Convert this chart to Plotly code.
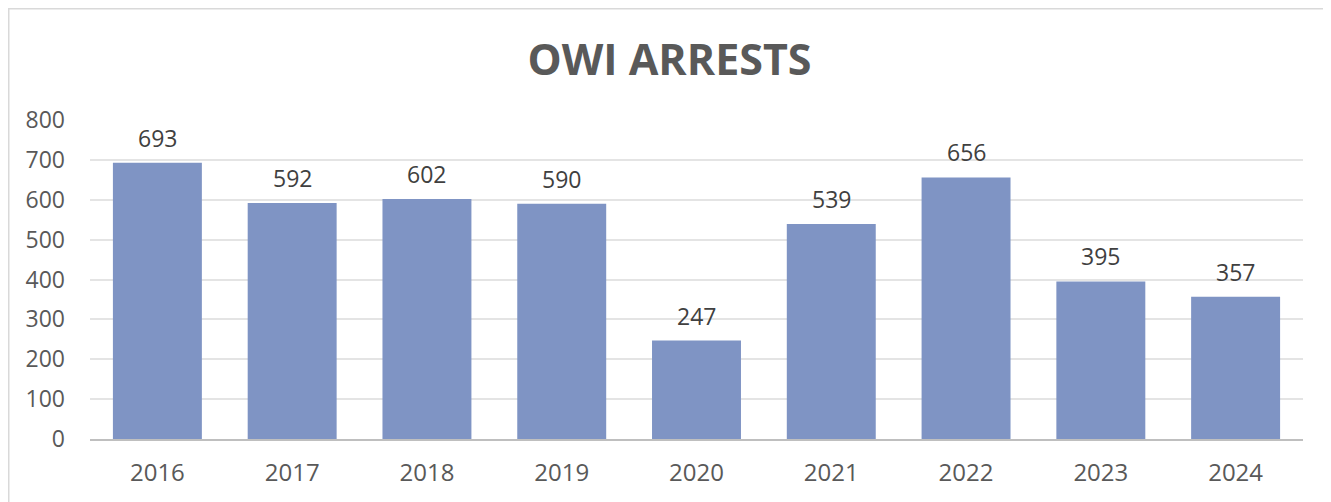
import plotly.graph_objects as go

# ── Data ───────────────────────────────────────────────────────────────────────

years   = ["2016", "2017", "2018", "2019", "2020", "2021", "2022", "2023", "2024"]
arrests = [693, 592, 602, 590, 247, 539, 656, 395, 357]

# ── Layout geometry (px, figure coords; page body adds an 8px offset) ─────────

W, H = 1323, 494
L, R, T, B = 82, 28, 112, 63
pw, ph = W - L - R, H - T - B

def px_x(x):
    return (x - L) / pw

def px_y(y):
    return (H - B - y) / ph

FONT = "Open Sans"

# ── Figure ─────────────────────────────────────────────────────────────────────

fig = go.Figure(go.Bar(
    x=years, y=arrests,
    marker=dict(color="#7F94C4", line=dict(width=0)),
    width=0.66,
    hoverinfo="x+y",
))

# data labels (category axis -> position by index)
for i, v in enumerate(arrests):
    fig.add_annotation(x=i, y=v, text=str(v), showarrow=False,
                       yanchor="bottom", yshift=7,
                       font=dict(family=FONT, size=23, color="#404040"))

# outer chart frame
fig.add_shape(type="rect", xref="paper", yref="paper",
              x0=px_x(0.75), x1=px_x(W + 5), y0=px_y(H + 5), y1=px_y(0.75),
              line=dict(color="#D9D9D9", width=1.5), layer="below")

fig.update_layout(
    width=W, height=H,
    margin=dict(l=L, r=R, t=T, b=B, autoexpand=False),
    paper_bgcolor="white", plot_bgcolor="white",
    title=dict(text="<b>OWI ARRESTS</b>", x=0.5, xref="container", xanchor="center",
               y=1 - 52 / H, yref="container", yanchor="middle",
               font=dict(family=FONT, size=43, color="#595959")),
    font=dict(family=FONT, size=23, color="#595959"),
    showlegend=False,
)

fig.update_xaxes(type="category", automargin=False,
                 showgrid=False, showline=True, linecolor="#BFBFBF", linewidth=1.5,
                 ticks="", ticklabelstandoff=11,
                 tickfont=dict(family=FONT, size=24, color="#595959"))
fig.update_yaxes(range=[0, 800], dtick=100, automargin=False,
                 showgrid=True, gridcolor="#E4E4E4",
                 gridwidth=1.5, zeroline=False, showline=False, ticks="",
                 ticklabelstandoff=24,
                 tickfont=dict(family=FONT, size=23, color="#595959"))

fig.write_html("out.html")
